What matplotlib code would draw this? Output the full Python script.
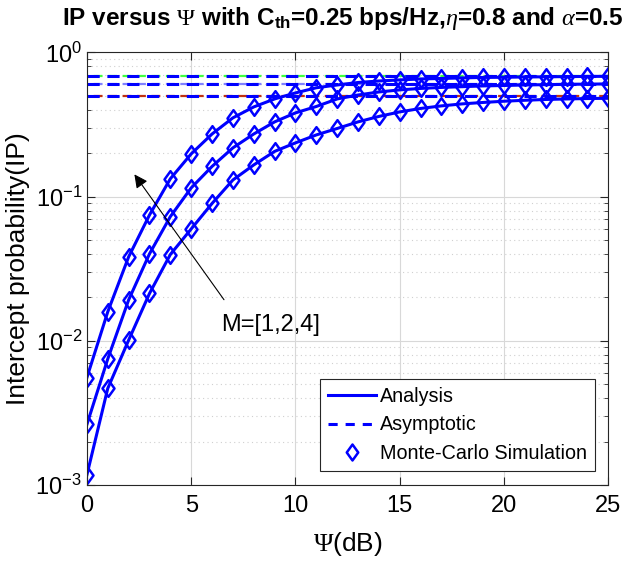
import numpy as np
import matplotlib
matplotlib.use('Agg')
import matplotlib.pyplot as plt
from matplotlib.path import Path

plt.rcParams['font.family'] = ['Liberation Sans', 'DejaVu Sans']
plt.rcParams['mathtext.fontset'] = 'custom'
plt.rcParams['mathtext.rm'] = 'Liberation Serif'
plt.rcParams['mathtext.it'] = 'Liberation Serif:italic'
plt.rcParams['mathtext.bf'] = 'Liberation Sans:bold'
plt.rcParams['mathtext.sf'] = 'Liberation Sans'

# Psi en dB
psi_db = np.arange(0, 26)

# IP analytique / simulation pour M = 1, 2, 4
ip_m1 = [1.175e-3, 4.68e-3, 0.0101, 0.0213, 0.0397, 0.0597, 0.0897, 0.1305, 0.166, 0.206,
         0.236, 0.268, 0.297, 0.330, 0.360, 0.387, 0.409, 0.426, 0.440, 0.450,
         0.459, 0.466, 0.472, 0.476, 0.479, 0.481]
ip_m2 = [2.63e-3, 7.49e-3, 0.0192, 0.0401, 0.0727, 0.115, 0.162, 0.218, 0.272, 0.330,
         0.381, 0.422, 0.476, 0.507, 0.532, 0.550, 0.563, 0.572, 0.579, 0.586,
         0.590, 0.595, 0.598, 0.601, 0.603, 0.605]
ip_m4 = [5.56e-3, 0.0159, 0.0382, 0.0746, 0.133, 0.198, 0.272, 0.352, 0.419, 0.476,
         0.524, 0.569, 0.595, 0.619, 0.634, 0.645, 0.655, 0.660, 0.666, 0.671,
         0.673, 0.676, 0.678, 0.680, 0.682, 0.683]

# asymptotes (haute SNR)
asym = [0.497, 0.608, 0.69]
asym_colors = ['#c03010', '#8080ff', '#40ff40']

fig = plt.figure(figsize=(6.39, 5.64), dpi=100)
ax = fig.add_axes([0.136, 0.140, 0.816, 0.767])

blue = '#0000ff'
# losange plus haut que large, comme dans MATLAB
diamond = Path([(0, 1), (0.72, 0), (0, -1), (-0.72, 0), (0, 1)],
               [Path.MOVETO, Path.LINETO, Path.LINETO, Path.LINETO, Path.CLOSEPOLY])

for a, c in zip(asym, asym_colors):
    ax.plot([psi_db[0], psi_db[-1]], [a, a], color=c, lw=1.6, ls=(3.5, (4, 2.5)))
    ax.plot([psi_db[0], psi_db[-1]], [a, a], color=blue, lw=2.2, ls=(0, (4, 2.5)))

for ip in [ip_m1, ip_m2, ip_m4]:
    ax.plot(psi_db, ip, color=blue, lw=2.2)
    ax.plot(psi_db, ip, ls='none', marker=diamond, ms=12, mfc='none', mec=blue, mew=1.8)

# entrées de légende
h1, = ax.plot([], [], color=blue, lw=2.2, label='Analysis')
h2, = ax.plot([], [], color=blue, lw=2.2, ls=(0, (3, 2.6)), label='Asymptotic')
h3, = ax.plot([], [], ls='none', marker=diamond, ms=11.5, mfc='none', mec=blue, mew=1.8,
              label='Monte-Carlo Simulation')

ax.set_yscale('log')
ax.set_xlim(0, 25)
ax.set_ylim(1e-3, 1)
ax.set_xticks([0, 5, 10, 15, 20, 25])

ax.grid(True, which='major', color='#d8d8d8', lw=0.8)
ax.grid(True, which='minor', axis='y', color='#d0d0d0', lw=0.8, ls=(0, (1, 3)))
ax.tick_params(which='both', direction='in', top=True, right=True, labelsize=17,
               colors='#262626', labelcolor='black')
ax.tick_params(axis='x', pad=7)
ax.tick_params(which='major', length=6)
ax.tick_params(which='minor', length=3)
for s in ax.spines.values():
    s.set_color('#262626')
    s.set_linewidth(0.8)

ax.set_xlabel(r'$\Psi$(dB)', fontsize=19)
ax.set_ylabel('Intercept probability(IP)', fontsize=19)
ax.xaxis.set_label_coords(0.5, -0.105)
ax.yaxis.set_label_coords(-0.11, 0.5)
ax.set_title(r'IP versus $\Psi$ with C$_{\mathbf{th}}$=0.25 bps/Hz,$\eta$=0.8 and $\alpha$=0.5',
             fontsize=17.5, fontweight='bold', pad=20, x=0.49)

ax.annotate('', xy=(2.2, 0.148), xytext=(6.65, 0.0186),
            arrowprops=dict(arrowstyle='-|>', color='black', lw=0.8, mutation_scale=20))
ax.text(6.45, 0.0129, 'M=[1,2,4]', fontsize=17, va='center', ha='left')

leg = ax.legend(handles=[h1, h2, h3], loc='lower right', fontsize=14.2, frameon=True,
                fancybox=False, edgecolor='#262626', framealpha=1, handlelength=2.4,
                borderaxespad=0.7, labelspacing=0.5, handletextpad=0.2, borderpad=0.4)
leg.get_frame().set_linewidth(0.8)

fig.savefig('out.png', dpi=100)
